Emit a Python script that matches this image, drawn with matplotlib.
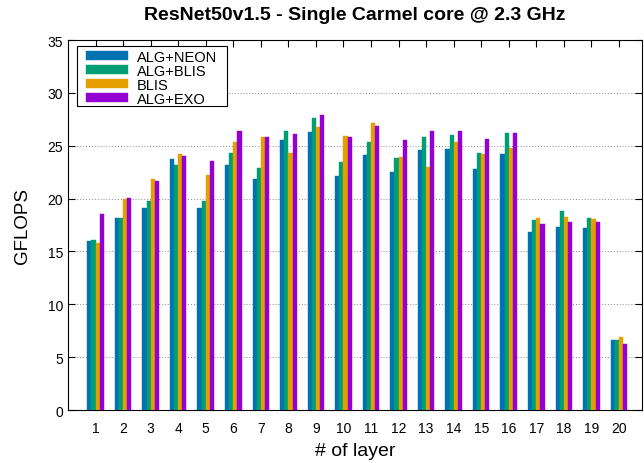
import matplotlib.pyplot as plt
from matplotlib.patches import Rectangle
import numpy as np

plt.rcParams['font.family'] = ['Liberation Sans', 'DejaVu Sans']

layers = list(range(1, 21))
alg_neon = [16.0, 18.2, 19.1, 23.7, 19.1, 23.2, 21.9, 25.5, 26.3, 22.1,
            24.1, 22.5, 24.6, 24.7, 22.8, 24.2, 16.8, 17.3, 17.2, 6.65]
alg_blis = [16.1, 18.2, 19.8, 23.2, 19.8, 24.3, 22.9, 26.4, 27.6, 23.5,
            25.35, 23.8, 25.8, 26.0, 24.3, 26.2, 18.0, 18.8, 18.2, 6.65]
blis = [15.8, 20.0, 21.9, 24.2, 22.2, 25.4, 25.8, 24.3, 26.8, 25.9,
        27.15, 23.9, 23.0, 25.4, 24.2, 24.8, 18.2, 18.3, 18.1, 6.9]
alg_exo = [18.5, 20.1, 21.7, 24.0, 23.6, 26.4, 25.8, 26.1, 27.9, 25.8,
           26.9, 25.5, 26.4, 26.4, 25.6, 26.2, 17.6, 17.8, 17.8, 6.25]

series = [("ALG+NEON", alg_neon, "#0072B2"),
          ("ALG+BLIS", alg_blis, "#009E73"),
          ("BLIS", blis, "#E69F00"),
          ("ALG+EXO", alg_exo, "#9400D3")]

fig = plt.figure(figsize=(6.44, 4.64), dpi=100)
ax = fig.add_axes([0.1056, 0.1142, 0.8914, 0.7974])

x = np.array(layers)
w = 0.15
for i, (name, vals, col) in enumerate(series):
    ax.bar(x + (i - 1.5) * w, vals, w, color=col, label=name,
           edgecolor=col, linewidth=0.3, zorder=3)

ax.set_xlim(0, 20.84)
ax.set_ylim(0, 35)
ax.set_xticks(layers)
ax.set_yticks(range(0, 36, 5))
ax.yaxis.grid(True, linestyle=(0, (1, 2)), color='#888888', linewidth=0.7, zorder=0)
ax.tick_params(direction='in', top=True, right=True, labelsize=10, length=5)
ax.tick_params(axis='x', pad=8)

ax.set_title("ResNet50v1.5 - Single Carmel core @ 2.3 GHz",
             fontsize=14, fontweight='bold', pad=15)
ax.set_xlabel("# of layer", fontsize=14, labelpad=5)
ax.set_ylabel("GFLOPS", fontsize=13.5, labelpad=12)

# legend without its own frame, box drawn separately (gnuplot-style padding)
leg = ax.legend(loc='upper left', bbox_to_anchor=(15 / 574, 1 - 7 / 370),
                borderaxespad=0, fontsize=10.5, frameon=False,
                borderpad=0.2, labelspacing=0.0, handlelength=2.9,
                handleheight=0.55, handletextpad=0.6)
leg.set_zorder(6)
ax.add_patch(Rectangle((9 / 574, 1 - 66 / 370), 150 / 574, 60 / 370,
                       transform=ax.transAxes, facecolor='white',
                       edgecolor='black', linewidth=0.8, zorder=5))

plt.savefig("out.png")
plt.close()
